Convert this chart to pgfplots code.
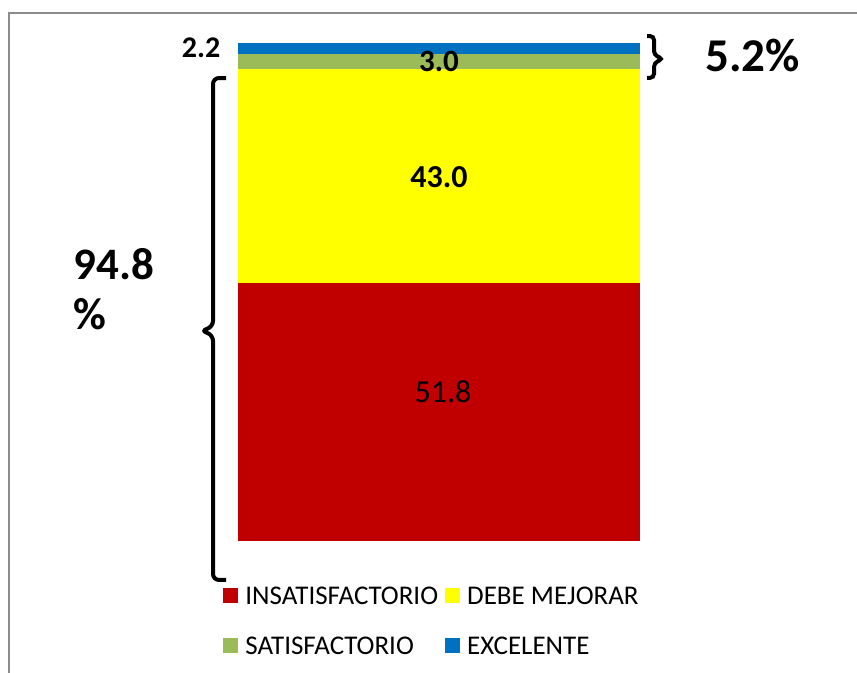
\documentclass[border=0pt]{standalone}
\usepackage{pgfplots}
\pgfplotsset{compat=1.18}
\usepackage{fontspec}
\setmainfont{Carlito}
\definecolor{cRed}{RGB}{192,0,0}
\definecolor{cYel}{RGB}{255,255,0}
\definecolor{cGrn}{RGB}{155,187,89}
\definecolor{cBlu}{RGB}{0,112,192}
\definecolor{cFrame}{RGB}{140,140,140}
\begin{document}
\begin{tikzpicture}
\begin{axis}[
  name=ax,
  scale only axis,
  width=428.5pt, height=336.5pt,
  xmin=-439, xmax=418,
  ymin=-26.506, ymax=108.635,
  hide axis,
  clip=false,
  ybar stacked,
  bar width=402,
  legend columns=2,
  legend image code/.code={\fill[#1] (0pt,-3.75pt) rectangle (7.5pt,3.75pt);},
  legend style={
    at={(axis cs:-216,-8.33)}, anchor=north west,
    draw=none, fill=none, inner sep=0pt,
    font=\fontsize{13.5}{16}\selectfont,
    nodes={text height=9pt, text depth=0pt, inner sep=2pt},
    row sep=12pt,
    column sep=0pt,
    /tikz/every odd column/.append style={column sep=1.5pt},
    /tikz/every even column/.append style={column sep=1.5pt},
  },
  legend cell align=left,
]
\addplot[fill=cRed, draw=none] coordinates {(0,51.8)};
\addlegendentry{INSATISFACTORIO}
\addplot[fill=cYel, draw=none] coordinates {(0,43.0)};
\addlegendentry{DEBE MEJORAR}
\addplot[fill=cGrn, draw=none] coordinates {(0,3.0)};
\addlegendentry{SATISFACTORIO}
\addplot[fill=cBlu, draw=none] coordinates {(0,2.2)};
\addlegendentry{EXCELENTE}

% frame
\draw[cFrame, line width=1.2pt] (axis cs:-430,-26.506) -- (axis cs:-430,106.02) -- (axis cs:418,106.02);

% label anchor coordinates
\coordinate (L1) at (axis cs:4,27.9);
\coordinate (L2) at (axis cs:0,71.0);
\coordinate (L3) at (axis cs:0,94.2);
\coordinate (L4) at (axis cs:-238,97.0);

% left bracket
\draw[line width=2pt, rounded corners=3pt]
  (axis cs:-213,92.97) -- (axis cs:-226,92.97) -- (axis cs:-226,43.0)
  -- (axis cs:-238,42.2) -- (axis cs:-226,41.4) -- (axis cs:-226,-7.83) -- (axis cs:-213,-7.83);
% right bracket
\draw[line width=2pt, rounded corners=2pt]
  (axis cs:208,101.4) -- (axis cs:215,101.4) -- (axis cs:215,97.6)
  -- (axis cs:224,96.8) -- (axis cs:215,96.0) -- (axis cs:215,93.0) -- (axis cs:208,93.0);

% summary labels
\node[anchor=base west, inner sep=0pt, font=\fontsize{22.5}{26}\selectfont\bfseries] at (axis cs:-366,52.41) {94.8};
\node[anchor=base west, inner sep=0pt, font=\fontsize{22.5}{26}\selectfont\bfseries] at (axis cs:-366,42.37) {\%};
\node[anchor=base west, inner sep=0pt, font=\fontsize{23.5}{26}\selectfont\bfseries] at (axis cs:266,94.24) {5.2\%};
\end{axis}
% data labels (drawn above the bars)
\node[anchor=base, font=\fontsize{16}{18}\selectfont] at (L1) {51.8};
\node[anchor=base, font=\fontsize{16}{18}\selectfont\bfseries] at (L2) {43.0};
\node[anchor=base, font=\fontsize{15.5}{18}\selectfont\bfseries] at (L3) {3.0};
\node[anchor=base, font=\fontsize{15}{18}\selectfont\bfseries] at (L4) {2.2};
\pgfresetboundingbox
\path (ax.south west) rectangle (ax.north east);
\end{tikzpicture}
\end{document}
